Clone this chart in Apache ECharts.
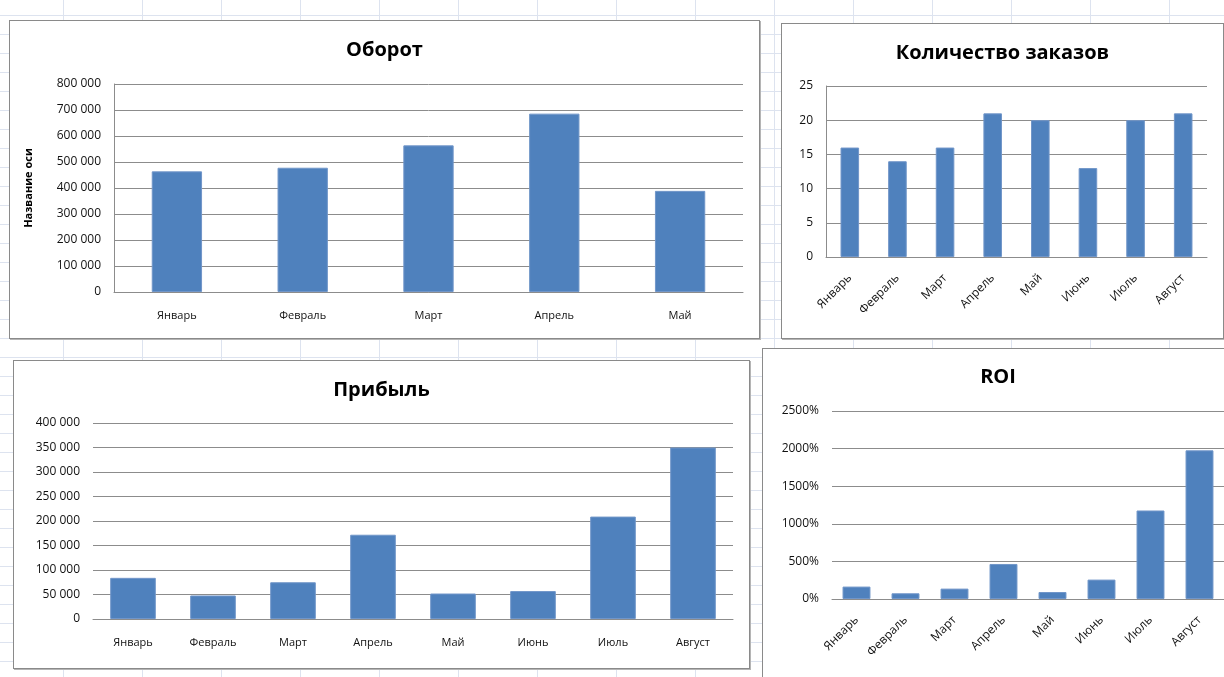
<!DOCTYPE html>
<html>
<head>
<meta charset="utf-8">
<script src="https://cdn.jsdelivr.net/npm/echarts@6/dist/echarts.min.js"></script>
<style>
  html, body {
    margin: 0;
    width: 1224px;
    height: 677px;
    overflow: hidden;
    background-color: #fff;
    background-image:
      repeating-linear-gradient(to bottom, transparent 0, transparent 18px, #dde3ef 18px, #dde3ef 19px),
      repeating-linear-gradient(to right, transparent 0, transparent 78px, #dde3ef 78px, #dde3ef 79px);
    background-position: 0 -3px, -15px 0;
  }
  .chart-box {
    position: absolute;
    background: #fff;
    border: 1px solid #8a8a8a;
    box-shadow: 1px 1px 0 #b5b5b5;
  }
  #turnover { left: 9px; top: 20px; width: 749px; height: 317px; }
  #orders { left: 781px; top: 23px; width: 441px; height: 314px; }
  #profit { left: 13px; top: 360px; width: 735px; height: 307px; }
  #roi { left: 762px; top: 348px; width: 470px; height: 340px; }
</style>
</head>
<body>
<div id="turnover" class="chart-box"></div>
<div id="orders" class="chart-box"></div>
<div id="profit" class="chart-box"></div>
<div id="roi" class="chart-box"></div>
<script>
// данные по месяцам
const months5 = ['Январь', 'Февраль', 'Март', 'Апрель', 'Май'];
const months8 = ['Январь', 'Февраль', 'Март', 'Апрель', 'Май', 'Июнь', 'Июль', 'Август'];

const turnover = [464000, 478000, 564000, 686000, 389000];
const orders = [16, 14, 16, 21, 20, 13, 20, 21];
const profit = [84000, 48000, 75000, 172000, 52000, 57000, 209000, 350000];
const roi = [165, 76, 138, 466, 93, 258, 1177, 1977];

const FONT = '"Open Sans", "Noto Sans", sans-serif';
const BAR = '#4f81bd';
const GRID_LINE = '#8c8c8c';

const spaced = (v) => String(v).replace(/\B(?=(\d{3})+(?!\d))/g, ' ');
const plain = (v) => String(v);
const percent = (v) => v + '%';

const makeOption = (cfg) => ({
  animation: false,
  title: {
    text: cfg.title,
    left: 'center',
    top: cfg.titleTop,
    textStyle: { fontFamily: FONT, fontSize: 20, fontWeight: 'bold', color: '#000' },
  },
  grid: {
    left: cfg.grid[0],
    top: cfg.grid[1],
    right: cfg.grid[2],
    bottom: cfg.grid[3],
    containLabel: false,
    outerBoundsMode: 'none',
  },
  xAxis: {
    type: 'category',
    data: cfg.categories,
    axisLine: { show: true, lineStyle: { color: GRID_LINE, width: 1 } },
    axisTick: { show: false },
    axisLabel: {
      fontFamily: FONT,
      fontSize: cfg.rotate ? 12 : 11,
      color: '#111',
      margin: cfg.rotate ? 19 : 18,
      rotate: cfg.rotate || 0,
      interval: 0,
    },
    splitLine: { show: false },
  },
  yAxis: {
    type: 'value',
    min: 0,
    max: cfg.max,
    interval: cfg.interval,
    name: cfg.yName || '',
    nameLocation: 'middle',
    nameGap: 80,
    nameRotate: 90,
    nameTextStyle: { fontFamily: FONT, fontSize: 11, fontWeight: 'bold', color: '#000' },
    axisLine: { show: !!cfg.yLine, lineStyle: { color: GRID_LINE, width: 1 } },
    axisTick: { show: false },
    axisLabel: {
      fontFamily: FONT,
      fontSize: 12,
      color: '#111',
      margin: 13,
      formatter: cfg.formatter,
    },
    splitLine: { show: true, lineStyle: { color: GRID_LINE, width: 1 } },
  },
  series: [
    {
      type: 'bar',
      data: cfg.values,
      barWidth: cfg.barWidth,
      itemStyle: { color: BAR, borderColor: '#7196c9', borderWidth: 1 },
    },
  ],
});

const charts = [];

const turnoverChart = echarts.init(document.getElementById('turnover'));
turnoverChart.setOption(makeOption({
  title: 'Оборот',
  titleTop: 14,
  grid: [104, 63, 16, 46],
  categories: months5,
  values: turnover,
  max: 800000,
  interval: 100000,
  formatter: spaced,
  yName: 'Название оси',
  yLine: true,
  barWidth: '40%',
}));
charts.push(turnoverChart);

const ordersChart = echarts.init(document.getElementById('orders'));
ordersChart.setOption(makeOption({
  title: 'Количество заказов',
  titleTop: 14,
  grid: [44, 62, 16, 81],
  categories: months8,
  values: orders,
  max: 25,
  interval: 5,
  formatter: plain,
  yLine: true,
  rotate: 45,
  barWidth: '39%',
}));
charts.push(ordersChart);

const profitChart = echarts.init(document.getElementById('profit'));
profitChart.setOption(makeOption({
  title: 'Прибыль',
  titleTop: 14,
  grid: [79, 62, 16, 49],
  categories: months8,
  values: profit,
  max: 400000,
  interval: 50000,
  formatter: spaced,
  barWidth: '57%',
}));
charts.push(profitChart);

const roiChart = echarts.init(document.getElementById('roi'));
roiChart.setOption(makeOption({
  title: 'ROI',
  titleTop: 13,
  grid: [69, 62, 9, 90],
  categories: months8,
  values: roi,
  max: 2500,
  interval: 500,
  formatter: percent,
  rotate: 45,
  barWidth: '57%',
}));
charts.push(roiChart);

window.addEventListener('resize', () => charts.forEach((c) => c.resize()));
</script>
</body>
</html>
